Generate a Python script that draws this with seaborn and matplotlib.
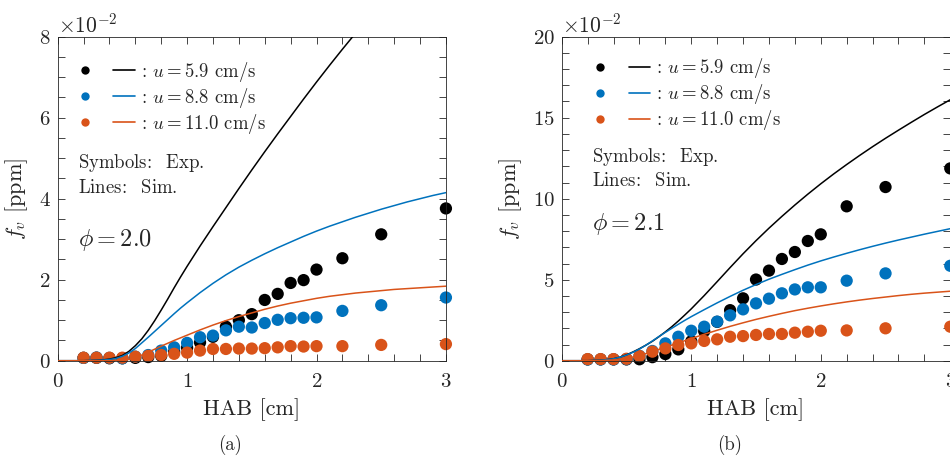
import numpy as np
import pandas as pd
import matplotlib
matplotlib.use("Agg")
import matplotlib.pyplot as plt
from matplotlib.lines import Line2D
from matplotlib.legend_handler import HandlerTuple
from matplotlib.ticker import MultipleLocator
import seaborn as sns

sns.set_theme(style="ticks")
plt.rcParams.update({
    "font.family": "serif",
    "font.serif": ["cmr10"],
    "mathtext.fontset": "cm",
    "axes.formatter.use_mathtext": True,
    "axes.unicode_minus": False,
})

# ---- data (soot volume fraction in units of 1e-2 ppm) ----
SCALE = 1e-2
velocities = ["5.9", "8.8", "11.0"]
colors = ["#000000", "#0072BD", "#D95319"]

hab_exp = [0.2, 0.3, 0.4, 0.5, 0.6, 0.7, 0.8, 0.9, 1.0, 1.1, 1.2, 1.3, 1.4,
           1.5, 1.6, 1.7, 1.8, 1.9, 2.0, 2.2, 2.5, 3.0]
# simulation output, sampled more densely where the profiles bend
hab_sim = [0.0, 0.1, 0.2,
           0.3, 0.35, 0.4, 0.45, 0.5, 0.55, 0.6, 0.65, 0.7, 0.75, 0.8, 0.85,
           0.9, 0.95, 1.0,
           1.1, 1.2, 1.3, 1.4, 1.5, 1.6, 1.7, 1.8, 1.9, 2.0, 2.1, 2.2, 2.3,
           2.4, 2.5, 2.6, 2.7, 2.8, 2.9, 3.0]

# phi = 2.0 : experiments
exp_a_59 = [0.07, 0.07, 0.06, 0.06, 0.07, 0.09, 0.12, 0.22, 0.32, 0.45, 0.59,
            0.84, 1.00, 1.15, 1.50, 1.65, 1.92, 1.99, 2.25, 2.53, 3.12, 3.76]
exp_a_88 = [0.07, 0.08, 0.07, 0.06, 0.10, 0.14, 0.25, 0.33, 0.44, 0.58, 0.62,
            0.75, 0.84, 0.82, 0.93, 1.01, 1.05, 1.06, 1.07, 1.23, 1.37, 1.56]
exp_a_110 = [0.075, 0.075, 0.075, 0.075, 0.10, 0.12, 0.14, 0.17, 0.20, 0.25,
             0.29, 0.29, 0.30, 0.30, 0.31, 0.33, 0.36, 0.35, 0.36, 0.36, 0.39, 0.41]

# phi = 2.0 : simulations
sim_a_59 = [0, 0, 0,
            0.01, 0.02, 0.04, 0.075, 0.13, 0.23, 0.37, 0.54, 0.75, 0.99, 1.25,
            1.52, 1.80, 2.07, 2.33,
            2.83, 3.31, 3.78, 4.25, 4.71, 5.16, 5.60, 6.03, 6.46, 6.88, 7.29,
            7.69, 8.08, 8.46]
sim_a_88 = [0, 0, 0,
            0.01, 0.015, 0.03, 0.055, 0.11, 0.19, 0.30, 0.44, 0.58, 0.725, 0.87,
            1.015, 1.16, 1.30, 1.43,
            1.68, 1.91, 2.12, 2.31, 2.48, 2.64, 2.79, 2.93, 3.07, 3.20, 3.32,
            3.43, 3.54, 3.64, 3.74, 3.83, 3.92, 4.00, 4.08, 4.15]
sim_a_110 = [0, 0, 0,
             0, 0, 0, 0.002, 0.01, 0.035, 0.08, 0.14, 0.21, 0.285, 0.36, 0.43,
             0.50, 0.565, 0.63,
             0.76, 0.88, 0.99, 1.09, 1.18, 1.27, 1.35, 1.42, 1.48, 1.54, 1.59,
             1.63, 1.67, 1.70, 1.73, 1.76, 1.78, 1.80, 1.82, 1.84]

# phi = 2.1 : experiments
exp_b_59 = [0.08, 0.08, 0.08, 0.08, 0.09, 0.22, 0.41, 0.70, 1.20, 1.82, 2.40,
            3.12, 3.85, 5.01, 5.56, 6.28, 6.71, 7.39, 7.80, 9.53, 10.72, 11.87]
exp_b_88 = [0.08, 0.08, 0.08, 0.10, 0.30, 0.60, 1.07, 1.48, 1.85, 2.10, 2.41,
            2.80, 3.17, 3.54, 3.83, 4.16, 4.40, 4.53, 4.53, 4.94, 5.39, 5.86]
exp_b_110 = [0.10, 0.10, 0.10, 0.12, 0.29, 0.56, 0.76, 0.97, 1.07, 1.22, 1.32,
             1.48, 1.52, 1.59, 1.65, 1.65, 1.73, 1.79, 1.85, 1.87, 2.00, 2.10]

# phi = 2.1 : simulations
sim_b_59 = [0, 0, 0,
            0.03, 0.065, 0.12, 0.22, 0.36, 0.54, 0.74, 0.96, 1.20, 1.48, 1.78,
            2.10, 2.45, 2.82, 3.20,
            4.02, 4.88, 5.75, 6.60, 7.41, 8.18, 8.91, 9.61, 10.28, 10.92, 11.53,
            12.11, 12.67, 13.21, 13.73, 14.23, 14.72, 15.20, 15.66, 16.11]
sim_b_88 = [0, 0, 0,
            0.03, 0.065, 0.12, 0.215, 0.35, 0.52, 0.72, 0.96, 1.22, 1.49, 1.75,
            2.00, 2.25, 2.49, 2.72,
            3.15, 3.57, 3.97, 4.35, 4.70, 5.03, 5.33, 5.62, 5.90, 6.16, 6.40,
            6.63, 6.85, 7.06, 7.26, 7.45, 7.63, 7.81, 7.98, 8.15]
sim_b_110 = [0, 0, 0,
             0.01, 0.025, 0.05, 0.09, 0.15, 0.23, 0.33, 0.44, 0.57, 0.70, 0.83,
             0.965, 1.10, 1.235, 1.37,
             1.63, 1.88, 2.12, 2.34, 2.55, 2.74, 2.92, 3.09, 3.24, 3.38, 3.51,
             3.63, 3.74, 3.84, 3.93, 4.02, 4.10, 4.17, 4.23, 4.29]

palette = dict(zip(velocities, colors))


def long_frame(x, series):
    parts = []
    for vel, y in zip(velocities, series):
        parts.append(pd.DataFrame({"HAB": x[:len(y)],
                                   "fv": np.asarray(y, dtype=float) * SCALE,
                                   "u": vel}))
    return pd.concat(parts, ignore_index=True)


panels = [
    dict(exp=[exp_a_59, exp_a_88, exp_a_110], sim=[sim_a_59, sim_a_88, sim_a_110],
         ymax=8, ymajor=2, yminor=0.5, phi="2.0", tag="(a)",
         rect=[0.0607, 0.2107, 0.4087, 0.709],
         leg=(0.043, 0.928), note_x=0.052, sym_y=0.61, lin_y=0.533, phi_y=0.3725,
         tag_x=230),
    dict(exp=[exp_b_59, exp_b_88, exp_b_110], sim=[sim_b_59, sim_b_88, sim_b_110],
         ymax=20, ymajor=5, yminor=1, phi="2.1", tag="(b)",
         rect=[0.5913, 0.2107, 0.409, 0.709],
         leg=(0.0716, 0.939), note_x=0.077, sym_y=0.63, lin_y=0.555, phi_y=0.422,
         tag_x=730),
]

fig = plt.figure(figsize=(9.5, 4.57), dpi=100)
axis_col = "#262626"

for p in panels:
    ax = fig.add_axes(p["rect"])
    exp_df = long_frame(hab_exp, p["exp"])
    sim_df = long_frame(hab_sim, p["sim"])

    sns.scatterplot(data=exp_df, x="HAB", y="fv", hue="u", hue_order=velocities,
                    palette=palette, s=78, linewidth=0, legend=False, ax=ax,
                    zorder=2, clip_on=False)
    sns.lineplot(data=sim_df, x="HAB", y="fv", hue="u", hue_order=velocities,
                 palette=palette, lw=1.1, legend=False, ax=ax, zorder=3,
                 estimator=None)

    ax.set_xlim(0, 3)
    ax.set_ylim(0, p["ymax"] * SCALE)
    ax.xaxis.set_major_locator(MultipleLocator(1))
    ax.xaxis.set_minor_locator(MultipleLocator(0.2))
    ax.yaxis.set_major_locator(MultipleLocator(p["ymajor"] * SCALE))
    ax.yaxis.set_minor_locator(MultipleLocator(p["yminor"] * SCALE))
    ax.ticklabel_format(axis="y", style="sci", scilimits=(-2, -2))
    ax.yaxis.get_offset_text().set_fontsize(15.5)
    ax.yaxis.get_offset_text().set_color(axis_col)

    ax.tick_params(which="both", direction="in", top=True, right=True,
                   bottom=True, left=True, length=5, width=0.6, color=axis_col,
                   labelsize=15, labelcolor=axis_col)
    ax.tick_params(axis="x", pad=9)
    ax.tick_params(axis="y", pad=5)
    for s in ax.spines.values():
        s.set_color(axis_col)
        s.set_linewidth(0.6)

    ax.set_xlabel("HAB [cm]", fontsize=16, color=axis_col, labelpad=5)
    ax.set_ylabel("$f_v$ [ppm]", fontsize=16, color=axis_col, labelpad=6)

    handles = []
    for vel in velocities:
        dot = Line2D([], [], marker="o", ls="none", ms=6, mew=0, color=palette[vel])
        seg = Line2D([], [], color=palette[vel], lw=1.2)
        handles.append((dot, seg))
    labels = [rf": $u={v}$ cm/s" for v in velocities]
    ax.legend(handles, labels,
              handler_map={tuple: HandlerTuple(ndivide=None, pad=0.92)},
              loc="upper left", bbox_to_anchor=p["leg"], frameon=False,
              borderpad=0, borderaxespad=0, handlelength=3.25,
              handletextpad=0.3, labelspacing=0.1, fontsize=13.5)

    ax.text(p["note_x"], p["sym_y"], r"Symbols: $\enspace$Exp.",
            transform=ax.transAxes, fontsize=13.5, va="center", ha="left")
    ax.text(p["note_x"], p["lin_y"], r"Lines: $\enspace$Sim.",
            transform=ax.transAxes, fontsize=13.5, va="center", ha="left")
    ax.text(p["note_x"], p["phi_y"], rf"$\phi={p['phi']}$", transform=ax.transAxes,
            fontsize=17.5, va="center", ha="left")

    fig.text(p["tag_x"] / 950, 1 - 445 / 457, p["tag"], fontsize=13.5,
             ha="center", va="center")

fig.savefig("out.png", dpi=100)
